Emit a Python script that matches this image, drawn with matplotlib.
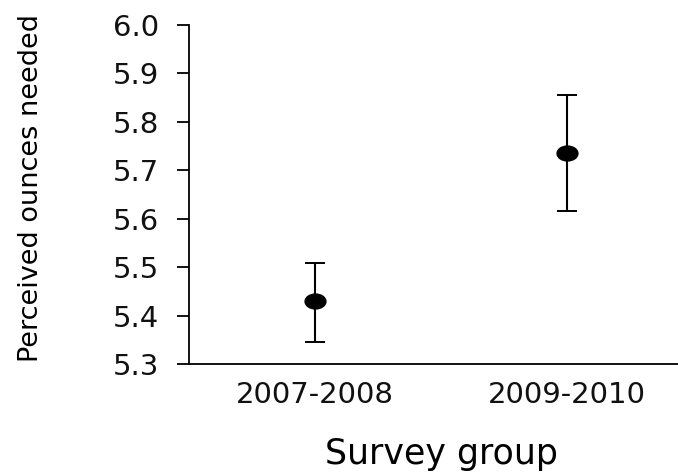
import numpy as np
import matplotlib.pyplot as plt
from matplotlib.path import Path
from matplotlib.transforms import Affine2D

# survey groups and mean perceived ounces with their interval bounds
groups = ['2007-2008', '2009-2010']
means = [5.430, 5.736]
lower = [5.346, 5.616]
upper = [5.508, 5.856]

yticks = [5.3, 5.4, 5.5, 5.6, 5.7, 5.8, 5.9, 6.0]

plt.rcParams['font.family'] = 'DejaVu Sans'
plt.rcParams['text.color'] = '#111111'

fig = plt.figure(figsize=(6.78, 4.73), dpi=100)
ax = fig.add_axes([189 / 678, 109 / 473, 504 / 678, 339 / 473])

x = np.arange(1, len(groups) + 1)
means = np.array(means)
yerr = np.vstack([means - np.array(lower), np.array(upper) - means])

# slightly wide oval marker
oval = Path.unit_circle().transformed(Affine2D().scale(1.4, 1.0))

ax.errorbar(x, means, yerr=yerr, fmt='none', ecolor='black',
            elinewidth=1.5, capsize=7.2, capthick=1.4, zorder=2)
ax.plot(x, means, linestyle='none', marker=oval, markersize=15,
        color='black', zorder=3)

ax.set_xlim(0.5, 2.5)
ax.set_ylim(5.3, 6.0)
ax.set_xticks(x)
ax.set_xticklabels(groups)
ax.set_yticks(yticks)
ax.set_yticklabels([f'{t:.1f}' for t in yticks])

for side in ['top', 'right']:
    ax.spines[side].set_visible(False)
for side in ['left', 'bottom']:
    ax.spines[side].set_linewidth(1.3)

ax.tick_params(axis='y', direction='out', length=8.6, width=1.3,
               labelsize=21, pad=13, labelcolor='#111111')
ax.tick_params(axis='x', length=0, labelsize=21, pad=12,
               labelcolor='#111111')

ax.set_xlabel('Survey group', fontsize=25)
ax.xaxis.set_label_coords(0.5, -0.215)
ax.set_ylabel('Perceived ounces needed', fontsize=19.5)
ax.yaxis.set_label_coords(-0.287, 0.52)

fig.savefig('out.png', dpi=100)
